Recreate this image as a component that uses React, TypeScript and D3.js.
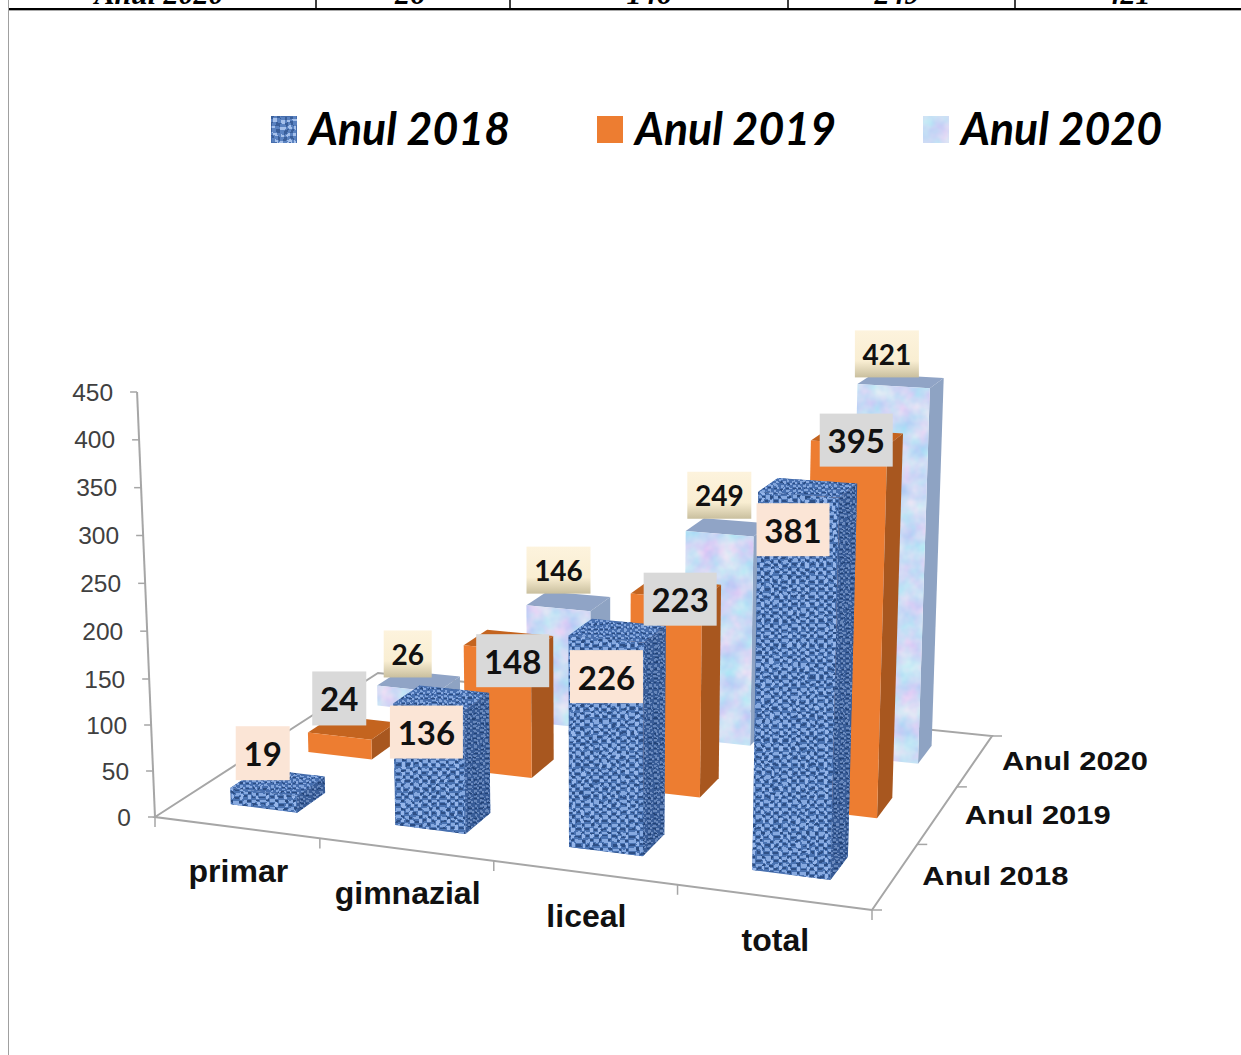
import React from "react";
import * as d3 from "d3";

// ---- data ----
const categories = ["primar", "gimnazial", "liceal", "total"];
const seriesNames = ["Anul 2018", "Anul 2019", "Anul 2020"];
const values2018 = [19, 136, 226, 381];
const values2019 = [24, 148, 223, 395];
const values2020 = [26, 146, 249, 421];
const yTicks = [0, 50, 100, 150, 200, 250, 300, 350, 400, 450];
const tableCells = ["Anul 2020", "26", "146", "249", "421"];

// ---- layout ----
const W = 1241, H = 1055;
const floorFL: [number, number] = [155, 817];
const floorFR: [number, number] = [872, 910];
const floorBR: [number, number] = [992, 736];
const floorBL: [number, number] = [378, 673];

function homography(p0: number[], p1: number[], p2: number[], p3: number[]) {
  // unit square (0,0),(1,0),(1,1),(0,1) -> p0,p1,p2,p3
  const dx1 = p1[0] - p2[0], dx2 = p3[0] - p2[0], sx = p0[0] - p1[0] + p2[0] - p3[0];
  const dy1 = p1[1] - p2[1], dy2 = p3[1] - p2[1], sy = p0[1] - p1[1] + p2[1] - p3[1];
  const den = dx1 * dy2 - dx2 * dy1;
  const g = (sx * dy2 - dx2 * sy) / den;
  const h = (dx1 * sy - sx * dy1) / den;
  const a = p1[0] - p0[0] + g * p1[0], b = p3[0] - p0[0] + h * p3[0], c = p0[0];
  const d = p1[1] - p0[1] + g * p1[1], e = p3[1] - p0[1] + h * p3[1], f = p0[1];
  return (u: number, w: number): [number, number] => {
    const q = g * u + h * w + 1;
    return [(a * u + b * w + c) / q, (d * u + e * w + f) / q];
  };
}
const floor = homography(floorFL, floorFR, floorBR, floorBL);
const pxPerUnit = d3.scaleLinear().domain([763, 872]).range([0.875, 0.985]);
const heightGrowth = d3.scaleLinear().domain([0, 140, 381, 450]).range([0.94, 0.955, 1.01, 1.025]);
const axisHeight = d3.scaleLinear().domain([0, 150, 450]).range([0, 138, 425]);
const LEAN = 9.7e-5, LEAN_X0 = 590;
function lift(fx: number, fy: number, h: number): [number, number] {
  return [fx + LEAN * (fx - LEAN_X0) * h, fy - h];
}
function proj(u: number, w: number, v: number): [number, number] {
  const [fx, fy] = floor(u, w);
  return lift(fx, fy, v * pxPerUnit(fy) * heightGrowth(v));
}
const axisPoint = (t: number) => lift(floorFL[0], floorFL[1], axisHeight(t));

const uScale = d3.scaleBand<string>().domain(categories).range([0, 1]).paddingInner(0.59).paddingOuter(0.295);
const wScale = d3.scaleBand<string>().domain(seriesNames).range([0, 1]).paddingInner(0.64).paddingOuter(0.32).align(0.52);
const pts = (a: [number, number][]) => a.map((p) => p.map((n) => n.toFixed(1)).join(",")).join(" ");

const seriesValues = [values2018, values2019, values2020];
const faces = [
  { front: "url(#weave)", frontF: "url(#warp)", side: "url(#weaveDense)", sideF: "url(#warp)", top: "url(#weaveDense)", topF: "url(#warp)", shade: 0.22 },
  { front: "#ed7d31", side: "#a8571f", top: "#c4641f" },
  { front: "#cfe0f8", frontF: "url(#mottle)", side: "#8ea3c3", top: "#90a4c6" },
];
const labelFill = ["#fbe5d6", "#d9d9d9", "url(#cream)"];
const labelFont = [33, 33, 28];
const digitW = [19, 19, 16];
const labelH = [53, 53, 47];
const labelShift: [number, number][][] = [
  [[-15, -29], [-15, 34], [-11, 46], [-15, 42]],
  [[-13, -29], [4, 20], [4, 10], [-1, 3]],
  [[-11, -27], [-10, -31], [-9, -32], [-14, -27]],
];
const legendX = [271, 597, 923];
const legendFill = ["url(#weaveLegend)", "#ed7d31", "#cbdcf6"];
const legendFilter = ["url(#warp)", undefined, "url(#mottle)"];
const cellX = [159, 410, 649, 897, 1128];
const tableRules = [316, 510, 788, 1015];
const AXIS = "#a6a6a6";

function Bar({ s, i }: { s: number; i: number }) {
  const v = seriesValues[s][i];
  const f: any = faces[s];
  const u0 = uScale(categories[i])!, u1 = u0 + uScale.bandwidth();
  const w0 = wScale(seriesNames[s])!, w1 = w0 + wScale.bandwidth();
  const front: [number, number][] = [proj(u0, w0, 0), proj(u1, w0, 0), proj(u1, w0, v), proj(u0, w0, v)];
  const side: [number, number][] = [proj(u1, w0, 0), proj(u1, w1, 0), proj(u1, w1, v), proj(u1, w0, v)];
  const top: [number, number][] = [proj(u0, w0, v), proj(u1, w0, v), proj(u1, w1, v), proj(u0, w1, v)];
  return (
    <g>
      <polygon points={pts(side)} fill={f.side} filter={f.sideF} />
      {f.shade ? <polygon points={pts(side)} fill="#0b1f4a" opacity={f.shade} /> : null}
      <polygon points={pts(top)} fill={f.top} filter={f.topF} />
      <polygon points={pts(front)} fill={f.front} filter={f.frontF} />
    </g>
  );
}

function BarLabel({ s, i }: { s: number; i: number }) {
  const v = seriesValues[s][i];
  const u = uScale(categories[i])! + uScale.bandwidth() / 2;
  const w = wScale(seriesNames[s])! + wScale.bandwidth() / 2;
  const [cx, cy] = proj(u, w, v);
  const x = cx + labelShift[s][i][0], y = cy + labelShift[s][i][1];
  const txt = String(v);
  const bw = txt.length * digitW[s] + 16, bh = labelH[s] + (txt.length === 2 && s < 2 ? 1 : 0);
  return (
    <g>
      <rect x={x - bw / 2} y={y - bh / 2} width={bw} height={bh} fill={labelFill[s]} />
      <text x={x} y={y} textAnchor="middle" dominantBaseline="central" fontFamily="Lato" fontWeight={700} fontSize={labelFont[s]} fill="#111">{txt}</text>
    </g>
  );
}

export default function App() {
  const order: { s: number; i: number }[] = [];
  for (let s = 2; s >= 0; s--) for (let i = 0; i < 4; i++) order.push({ s, i });
  const axisBase = axisPoint(0), axisTop = axisPoint(450);
  return (
    <svg width={W} height={H} viewBox={`0 0 ${W} ${H}`} style={{ position: "absolute", left: 0, top: 0, display: "block", background: "#fff" }}>
      <defs>
        <pattern id="weave" width="9" height="8" patternUnits="userSpaceOnUse">
          <rect width="9" height="8" fill="#4a73b2" />
          <rect x="0" y="0" width="5" height="3" fill="#86a9e0" />
          <rect x="5" y="3" width="3" height="4" fill="#96b6ea" />
          <rect x="0" y="4" width="4" height="2" fill="#2d4f86" />
          <rect x="5" y="0" width="3" height="2" fill="#2a4c82" />
        </pattern>
        <pattern id="weaveDense" width="6" height="5" patternUnits="userSpaceOnUse">
          <rect width="6" height="5" fill="#466eae" />
          <rect x="0" y="0" width="3" height="2" fill="#82a5dc" />
          <rect x="3" y="2" width="2" height="2" fill="#88a9e0" />
          <rect x="0" y="3" width="3" height="1" fill="#2a4c82" />
        </pattern>
        <pattern id="weaveLegend" width="7" height="7" patternUnits="userSpaceOnUse">
          <rect width="7" height="7" fill="#5a82c0" />
          <rect width="4" height="3" fill="#a5c0ea" />
          <rect x="4" y="3" width="3" height="4" fill="#3a5f9a" />
        </pattern>
        <filter id="warp" filterUnits="userSpaceOnUse" x="0" y="0" width={W} height={H} colorInterpolationFilters="sRGB">
          <feTurbulence type="fractalNoise" baseFrequency="0.09" numOctaves="2" seed="4" result="n" />
          <feDisplacementMap in="SourceGraphic" in2="n" scale="6" xChannelSelector="R" yChannelSelector="G" result="d" />
          <feGaussianBlur in="d" stdDeviation="0.75" result="g" />
          <feComposite in="g" in2="SourceAlpha" operator="in" result="c" />
          <feFlood floodColor="#466eae" result="b" />
          <feComposite in="b" in2="SourceAlpha" operator="in" result="bb" />
          <feMerge>
            <feMergeNode in="bb" />
            <feMergeNode in="c" />
          </feMerge>
        </filter>
        <filter id="mottle" filterUnits="userSpaceOnUse" x="0" y="0" width={W} height={H} colorInterpolationFilters="sRGB">
          <feTurbulence type="fractalNoise" baseFrequency="0.05" numOctaves="3" seed="9" />
          <feColorMatrix type="matrix" values="0.35 0 0 0 0.62  0 0.2 0 0 0.76  0 0 0 0 0.96  0 0 0 0 1" />
          <feComposite in2="SourceAlpha" operator="in" />
        </filter>
        <linearGradient id="cream" x1="0" y1="0" x2="0" y2="1">
          <stop offset="0" stopColor="#fdf3dd" />
          <stop offset="0.65" stopColor="#f9eed2" />
          <stop offset="1" stopColor="#c9bf9e" />
        </linearGradient>
      </defs>

      {/* table remnant */}
      {tableCells.map((t, k) => (
        <text key={t} x={cellX[k]} y={4} textAnchor="middle" fontFamily="Liberation Serif" fontStyle="italic" fontWeight={700} fontSize={30} fill="#000">{t}</text>
      ))}
      <line x1={8} x2={W} y1={9} y2={9} stroke="#000" strokeWidth={2} />
      <line x1={8} x2={W} y1={10.5} y2={10.5} stroke="#aaa" strokeWidth={1} />
      {tableRules.map((x) => <line key={x} x1={x} x2={x} y1={0} y2={9} stroke="#000" strokeWidth={1.5} />)}
      <line x1={8.5} x2={8.5} y1={0} y2={H} stroke="#a0a0a0" strokeWidth={1} />

      {/* legend */}
      {seriesNames.map((n, k) => (
        <g key={n}>
          <rect x={legendX[k]} y={116} width={26} height={27} fill={legendFill[k]} filter={legendFilter[k]} />
          <text x={legendX[k] + 38} y={145} fontFamily="Lato" fontStyle="italic" fontWeight={700} fontSize={46} textLength={201} lengthAdjust="spacingAndGlyphs" fill="#000">{n}</text>
        </g>
      ))}

      {/* floor + axes */}
      <polyline points={pts([floorFR, floorFL, floorBL, floorBR, floorFR])} fill="none" stroke={AXIS} strokeWidth={2} />
      <line x1={axisBase[0]} y1={axisBase[1]} x2={axisTop[0]} y2={axisTop[1]} stroke={AXIS} strokeWidth={2} />
      {yTicks.map((t) => {
        const [x, y] = axisPoint(t);
        return (
          <g key={t}>
            <line x1={x - 7} x2={x} y1={y} y2={y} stroke={AXIS} strokeWidth={1.5} />
            <text x={x - 24} y={y} textAnchor="end" dominantBaseline="central" fontFamily="Liberation Sans" fontSize={24.5} fill="#404040">{t}</text>
          </g>
        );
      })}
      {d3.range(0, 5).map((k) => {
        const [x, y] = floor(k / 4, 0);
        return <line key={k} x1={x} x2={x} y1={y} y2={y + 10} stroke={AXIS} strokeWidth={1.5} />;
      })}
      {d3.range(0, 4).map((k) => {
        const [x, y] = floor(1, k / 3);
        return <line key={k} x1={x} x2={x + 10} y1={y} y2={y} stroke={AXIS} strokeWidth={1.5} />;
      })}
      {categories.map((c, k) => {
        const [x, y] = floor((k + 0.5) / 4, 0);
        return <text key={c} x={x + 2} y={y + 54} textAnchor="middle" fontFamily="Liberation Sans" fontWeight={700} fontSize={32} fill="#111">{c}</text>;
      })}
      {seriesNames.map((n, k) => {
        const [x, y] = floor(1, (k + 0.5) / 3);
        return <text key={n} x={x + 27} y={y + 9} fontFamily="Liberation Sans" fontWeight={700} fontSize={26} textLength={146} lengthAdjust="spacingAndGlyphs" fill="#111">{n}</text>;
      })}

      {/* bars, back to front */}
      {order.map(({ s, i }) => <Bar key={`${s}-${i}`} s={s} i={i} />)}
      {order.map(({ s, i }) => <BarLabel key={`${s}-${i}`} s={s} i={i} />)}
    </svg>
  );
}
